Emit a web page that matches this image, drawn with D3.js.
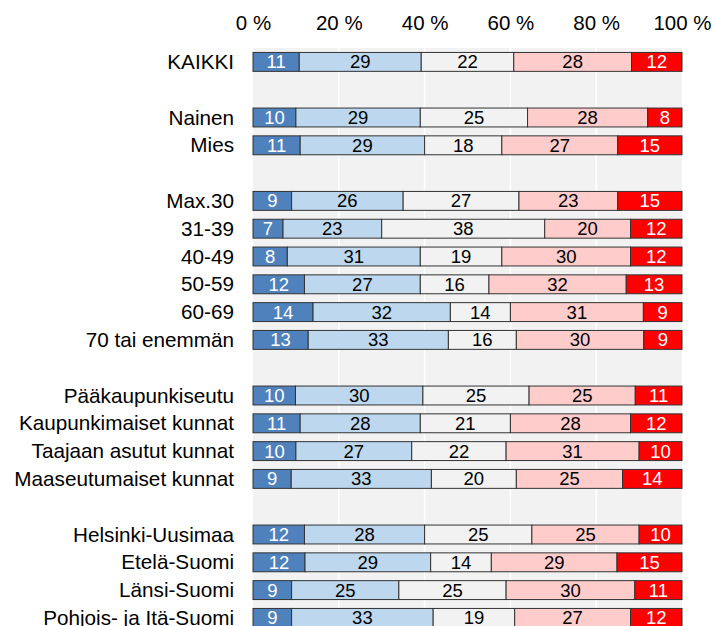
<!DOCTYPE html>
<html>
<head>
<meta charset="utf-8">
<script src="https://cdn.jsdelivr.net/npm/d3@7"></script>
<style>
  html, body { margin: 0; padding: 0; background: #ffffff; }
  svg { display: block; font-family: "Liberation Sans", Arial, sans-serif; }
</style>
</head>
<body>
<svg id="chart" width="713" height="626"></svg>
<script>
// Row labels; null marks an empty spacer row between groups
const categories = [
  "KAIKKI", null,
  "Nainen", "Mies", null,
  "Max.30", "31-39", "40-49", "50-59", "60-69", "70 tai enemmän", null,
  "Pääkaupunkiseutu", "Kaupunkimaiset kunnat", "Taajaan asutut kunnat", "Maaseutumaiset kunnat", null,
  "Helsinki-Uusimaa", "Etelä-Suomi", "Länsi-Suomi", "Pohjois- ja Itä-Suomi"
];

// Five answer shares per row (percent), from the leftmost segment to the rightmost
const s1 = [11, null, 10, 11, null, 9, 7, 8, 12, 14, 13, null, 10, 11, 10, 9, null, 12, 12, 9, 9];
const s2 = [29, null, 29, 29, null, 26, 23, 31, 27, 32, 33, null, 30, 28, 27, 33, null, 28, 29, 25, 33];
const s3 = [22, null, 25, 18, null, 27, 38, 19, 16, 14, 16, null, 25, 21, 22, 20, null, 25, 14, 25, 19];
const s4 = [28, null, 28, 27, null, 23, 20, 30, 32, 31, 30, null, 25, 28, 31, 25, null, 25, 29, 30, 27];
const s5 = [12, null, 8, 15, null, 15, 12, 12, 13, 9, 9, null, 11, 12, 10, 14, null, 10, 15, 11, 12];

const tickValues = [0, 0.2, 0.4, 0.6, 0.8, 1];
const tickLabels = ["0 %", "20 %", "40 %", "60 %", "80 %", "100 %"];

const seriesColors = ["#4f81bd", "#bdd7ee", "#f2f2f2", "#ffcccc", "#ff0000"];
const labelColors = ["#ffffff", "#000000", "#000000", "#000000", "#ffffff"];

const svg = d3.select("#chart");
const rowKeys = categories.map((c, i) => "r" + i);

const x = d3.scaleLinear().domain([0, 1]).range([253, 682]);
const y = d3.scaleBand()
  .domain(rowKeys)
  .range([48, 48 + 27.8 * categories.length])
  .paddingInner(0.32)
  .paddingOuter(0.16);

// Plot background and gridlines
svg.append("rect")
  .attr("x", x(0)).attr("y", 48)
  .attr("width", x(1) - x(0)).attr("height", 626 - 48 + 10)
  .attr("fill", "#f2f2f2");

svg.append("g").selectAll("line")
  .data(tickValues.slice(1, -1))
  .join("line")
  .attr("x1", d => x(d)).attr("x2", d => x(d))
  .attr("y1", 48).attr("y2", 640)
  .attr("stroke", "#ffffff").attr("stroke-width", 1.5);

// Top axis labels
const axis = d3.axisTop(x)
  .tickValues(tickValues)
  .tickFormat((d, i) => tickLabels[i])
  .tickSize(0)
  .tickPadding(0);
const axisG = svg.append("g").attr("transform", "translate(0,30)").call(axis);
axisG.select(".domain").remove();
axisG.selectAll("text")
  .attr("font-size", 20.5)
  .attr("fill", "#000000")
  .attr("font-family", "Liberation Sans, Arial, sans-serif");

// Stack the rows, normalising each to a full bar
const rows = categories.map((c, i) => {
  const vals = [s1[i], s2[i], s3[i], s4[i], s5[i]];
  return { key: rowKeys[i], name: c, vals };
}).filter(r => r.name !== null);

const segments = [];
rows.forEach(r => {
  const total = d3.sum(r.vals);
  let acc = 0;
  r.vals.forEach((v, k) => {
    segments.push({ key: r.key, k, v, x0: acc / total, x1: (acc + v) / total });
    acc += v;
  });
});

const bars = svg.append("g");
bars.selectAll("rect")
  .data(segments)
  .join("rect")
  .attr("x", d => x(d.x0))
  .attr("y", d => y(d.key))
  .attr("width", d => x(d.x1) - x(d.x0))
  .attr("height", y.bandwidth())
  .attr("fill", d => seriesColors[d.k])
  .attr("stroke", "#333333")
  .attr("stroke-width", 1);

bars.selectAll("text")
  .data(segments)
  .join("text")
  .attr("x", d => (x(d.x0) + x(d.x1)) / 2)
  .attr("y", d => y(d.key) + y.bandwidth() / 2 + 6.5)
  .attr("text-anchor", "middle")
  .attr("font-size", 18.5)
  .attr("fill", d => labelColors[d.k])
  .text(d => d.v);

// Row labels
svg.append("g").selectAll("text")
  .data(rows)
  .join("text")
  .attr("x", 234)
  .attr("y", d => y(d.key) + y.bandwidth() / 2 + 7)
  .attr("text-anchor", "end")
  .attr("font-size", 20.7)
  .attr("fill", "#000000")
  .text(d => d.name);
</script>
</body>
</html>
